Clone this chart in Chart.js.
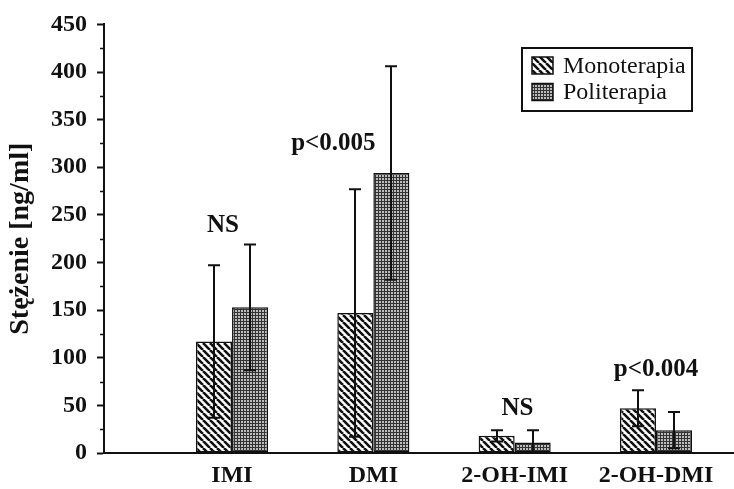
<!DOCTYPE html>
<html>
<head>
<meta charset="utf-8">
<script src="https://cdn.jsdelivr.net/npm/chart.js@4/dist/chart.umd.min.js"></script>
<style>
  html, body { margin: 0; padding: 0; background: #ffffff; }
  #wrap { width: 734px; height: 489px; }
</style>
</head>
<body>
<div id="wrap"><canvas id="c" width="734" height="489"></canvas></div>
<script>
// Drug concentrations (mean and SD, ng/ml) for the two therapy groups
const categories = ['IMI', 'DMI', '2-OH-IMI', '2-OH-DMI'];
const monoMean = [117, 147, 18, 47];
const monoSD   = [80, 130, 6, 19];
const poliMean = [153, 294, 11, 24];
const poliSD   = [66, 112, 13, 19];
const seriesNames = ['Monoterapia', 'Politerapia'];
const yTickValues = [0, 50, 100, 150, 200, 250, 300, 350, 400, 450];
const significance = ['NS', 'p<0.005', 'NS', 'p<0.004'];

// Where each significance note sits, in axis units (x: category position, y: ng/ml)
const noteAnchors = [
  { x: 0.936, y: 239 },
  { x: 1.717, y: 325 },
  { x: 3.02,  y: 47 },
  { x: 4.0,   y: 88 }
];

const SERIF = '"Liberation Serif", "Times New Roman", serif';
const INK = '#111111';

function hatchPattern() {
  const s = 7;
  const c = document.createElement('canvas');
  c.width = s; c.height = s;
  const g = c.getContext('2d');
  g.fillStyle = '#ffffff';
  g.fillRect(0, 0, s, s);
  g.strokeStyle = '#111111';
  g.lineWidth = 2.6;
  g.beginPath();
  for (let k = -1; k <= 1; k++) {
    g.moveTo(k * s, 0);
    g.lineTo(k * s + s, s);
  }
  g.stroke();
  return g.createPattern(c, 'repeat');
}

// Fine mesh: thin dark grid lines around small light cells
function stipplePattern() {
  const s = 3;
  const c = document.createElement('canvas');
  c.width = s; c.height = s;
  const g = c.getContext('2d');
  g.fillStyle = '#333333';
  g.fillRect(0, 0, s, s);
  g.fillStyle = '#bdbdbd';
  g.fillRect(1, 1, 2, 2);
  return g.createPattern(c, 'repeat');
}

const ctx = document.getElementById('c').getContext('2d');
const fills = [hatchPattern(), stipplePattern()];

const errorBars = {
  id: 'errorBars',
  afterDatasetsDraw(chart) {
    const y = chart.scales.y;
    const g = chart.ctx;
    g.save();
    g.strokeStyle = INK;
    g.lineWidth = 2;
    chart.data.datasets.forEach((ds, di) => {
      const meta = chart.getDatasetMeta(di);
      meta.data.forEach((bar, i) => {
        const m = ds.data[i].y;
        const sd = ds.sd[i];
        const hi = y.getPixelForValue(m + sd);
        const loV = m - sd;
        const lo = y.getPixelForValue(Math.max(0, loV));
        const cx = Math.round(bar.x);
        g.beginPath();
        g.moveTo(cx, hi);
        g.lineTo(cx, lo);
        g.moveTo(cx - 6, hi);
        g.lineTo(cx + 6, hi);
        if (loV > 0) {
          g.moveTo(cx - 6, lo);
          g.lineTo(cx + 6, lo);
        }
        g.stroke();
      });
    });
    g.restore();
  }
};

const minorTicks = {
  id: 'minorTicks',
  afterDraw(chart) {
    const y = chart.scales.y;
    const g = chart.ctx;
    const x0 = chart.chartArea.left;
    g.save();
    g.strokeStyle = INK;
    g.lineWidth = 1.5;
    g.beginPath();
    for (let i = 0; i < yTickValues.length - 1; i++) {
      const v = (yTickValues[i] + yTickValues[i + 1]) / 2;
      const py = Math.round(y.getPixelForValue(v)) + 0.5;
      g.moveTo(x0 - 4, py);
      g.lineTo(x0, py);
    }
    g.stroke();
    g.restore();
  }
};

const notes = {
  id: 'notes',
  afterDraw(chart) {
    const g = chart.ctx;
    const xs = chart.scales.x, ys = chart.scales.y;
    g.save();
    g.fillStyle = INK;
    g.font = 'bold 25px ' + SERIF;
    g.textAlign = 'center';
    g.textBaseline = 'middle';
    significance.forEach((t, i) => {
      const a = noteAnchors[i];
      g.fillText(t, xs.getPixelForValue(a.x), ys.getPixelForValue(a.y));
    });
    g.restore();
  }
};

const boxedLegend = {
  id: 'boxedLegend',
  afterDraw(chart) {
    const g = chart.ctx;
    const bx = 522, by = 48, bw = 170, bh = 63;
    g.save();
    g.fillStyle = '#ffffff';
    g.fillRect(bx, by, bw, bh);
    g.strokeStyle = INK;
    g.lineWidth = 2;
    g.strokeRect(bx, by, bw, bh);
    g.font = '24px ' + SERIF;
    g.textBaseline = 'middle';
    g.textAlign = 'left';
    chart.data.datasets.forEach((ds, i) => {
      const cy = 65.5 + i * 26.5;
      g.fillStyle = ds.backgroundColor;
      g.fillRect(532, cy - 8.5, 21, 17);
      g.lineWidth = 1.5;
      g.strokeRect(532, cy - 8.5, 21, 17);
      g.fillStyle = INK;
      g.fillText(ds.label, 563, cy + 1);
    });
    g.restore();
  }
};

function toPoints(values) {
  return categories.map((c, i) => ({ x: i + 1, y: values[i] }));
}

new Chart(ctx, {
  type: 'bar',
  data: {
    datasets: [
      {
        label: seriesNames[0],
        data: toPoints(monoMean),
        sd: monoSD,
        backgroundColor: fills[0],
        borderColor: INK,
        borderWidth: 1.5,
        borderSkipped: false
      },
      {
        label: seriesNames[1],
        data: toPoints(poliMean),
        sd: poliSD,
        backgroundColor: fills[1],
        borderColor: INK,
        borderWidth: 1.5,
        borderSkipped: false
      }
    ]
  },
  options: {
    responsive: false,
    animation: false,
    layout: { padding: { top: 20, right: 1, left: 0, bottom: 0 }, autoPadding: false },
    datasets: { bar: { categoryPercentage: 0.51, barPercentage: 1 } },
    plugins: { legend: { display: false }, tooltip: { enabled: false } },
    scales: {
      x: {
        type: 'linear',
        offset: false,
        bounds: 'data',
        min: 0.094,
        max: 4.545,
        grid: { display: false, drawTicks: false, offset: false },
        border: { display: true, color: INK, width: 2 },
        afterBuildTicks(scale) {
          scale.ticks = categories.map((c, i) => ({ value: i + 1 }));
        },
        afterFit(scale) { scale.height = 36; },
        ticks: {
          autoSkip: false,
          maxRotation: 0,
          padding: 8,
          color: INK,
          font: { family: SERIF, size: 24, weight: 'bold' },
          callback: (v) => categories[Math.round(v) - 1] || ''
        }
      },
      y: {
        min: 0,
        max: 450,
        afterBuildTicks(scale) {
          scale.ticks = yTickValues.map(v => ({ value: v }));
        },
        afterFit(scale) { scale.width = 104; },
        grid: { drawOnChartArea: false, drawTicks: true, tickLength: 7, tickWidth: 2, tickColor: INK },
        border: { display: true, color: INK, width: 2 },
        ticks: {
          padding: 10,
          color: INK,
          font: { family: SERIF, size: 24, weight: 'bold' }
        },
        title: {
          display: true,
          text: 'Stężenie [ng/ml]',
          color: INK,
          padding: { top: 4, bottom: 0 },
          font: { family: SERIF, size: 28, weight: 'bold' }
        }
      }
    }
  },
  plugins: [errorBars, minorTicks, notes, boxedLegend]
});
</script>
</body>
</html>
